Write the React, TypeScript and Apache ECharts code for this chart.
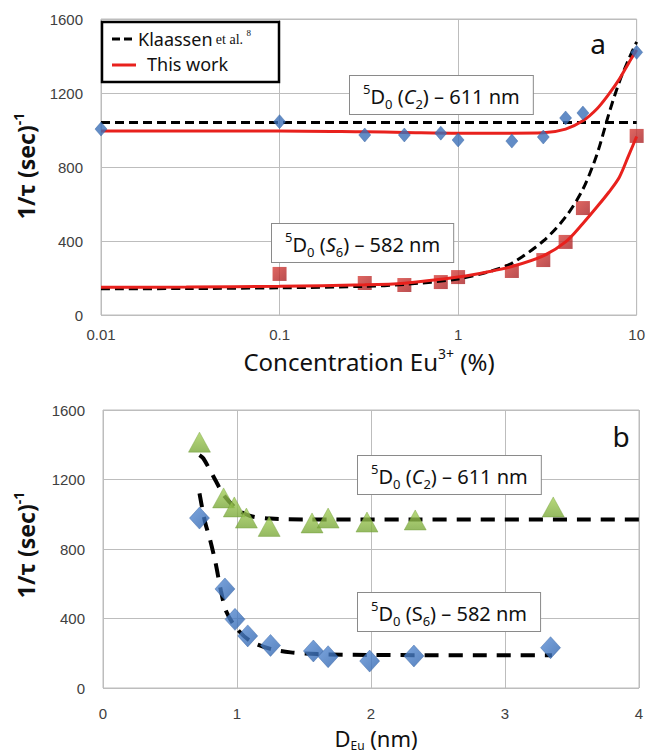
import React, { useEffect, useRef } from "react";
import * as echarts from "echarts";

// ---------- Panel a : decay rate vs Eu3+ concentration ----------
const concC2 = [0.01, 0.1, 0.3, 0.5, 0.8, 1, 2, 3, 4, 5, 10];
const rateC2 = [1005, 1045, 973, 973, 983, 946, 940, 962, 1065, 1092, 1420];
const concS6 = [0.1, 0.3, 0.5, 0.8, 1, 2, 3, 4, 5, 10];
const rateS6 = [222, 173, 162, 178, 205, 238, 297, 395, 578, 968];

// fitted / literature curves
const fitConc = [0.01, 0.03, 0.1, 0.3, 0.5, 1, 1.5, 2, 3, 4, 5, 6, 7, 8, 9, 10];
const fitC2ThisWork = [995, 995, 995, 990, 987, 983, 983, 983, 985, 1005, 1050, 1115, 1195, 1275, 1360, 1432];
const fitS6ThisWork = [150, 151, 155, 163, 172, 205, 235, 262, 320, 395, 495, 585, 665, 745, 860, 965];
const fitS6Klaassen = [142, 143, 147, 155, 165, 195, 235, 280, 400, 530, 680, 870, 1090, 1260, 1380, 1476];
const klaassenC2Conc = [0.01, 10];
const klaassenC2Rate = [1040, 1040];

// ---------- Panel b : decay rate vs Eu-Eu distance ----------
const distC2 = [0.72, 0.9, 0.98, 1.07, 1.24, 1.56, 1.68, 1.97, 2.33, 3.36];
const rateC2b = [1415, 1094, 1042, 978, 930, 950, 978, 955, 967, 1042];
const distS6 = [0.72, 0.91, 0.985, 1.08, 1.25, 1.57, 1.68, 1.99, 2.32, 3.34];
const rateS6b = [978, 570, 395, 300, 245, 213, 180, 155, 184, 232];

const guideC2X = [0.72, 0.75, 0.85, 0.9, 1.0, 1.1, 1.25, 1.5, 4.0];
const guideC2Y = [1340, 1320, 1180, 1110, 1030, 990, 975, 970, 970];
const guideS6X = [0.72, 0.76, 0.8, 0.84, 0.88, 0.92, 1.0, 1.1, 1.25, 1.4, 1.6, 2.0, 3.35];
const guideS6Y = [1120, 960, 850, 720, 560, 440, 340, 270, 225, 205, 195, 190, 188];

const yTicks = [0, 400, 800, 1200, 1600];

const zip = (xs: number[], ys: number[]) => xs.map((x, i) => [x, ys[i]]);

const FONT = "'Noto Sans', 'DejaVu Sans', sans-serif";
const TICK_FONT = "'Liberation Sans', Arial, sans-serif";
const GRID_COLOR = "#bdbdbd";
const RED = "#e8211d";

const yAxisCommon = (gridIndex: number) => ({
  type: "value" as const,
  gridIndex,
  min: yTicks[0],
  max: yTicks[yTicks.length - 1],
  interval: 400,
  axisLine: { show: false },
  axisTick: { show: false },
  splitLine: { show: true, lineStyle: { color: GRID_COLOR, width: 1 } },
  axisLabel: {
    color: "#404040",
    fontSize: 15,
    fontFamily: TICK_FONT,
    margin: 18,
    formatter: (v: number) => String(v),
  },
});

const labelBox = (text: string, left: number, top: number) => ({
  type: "text",
  left,
  top,
  z: 100,
  style: {
    text,
    fontFamily: FONT,
    fontSize: 20,
    fill: "#111",
    backgroundColor: "#fff",
    borderColor: "#8a8a8a",
    borderWidth: 1,
    padding: [6, 13, 4, 13],
    rich: {
      n: { fontSize: 20, fontFamily: FONT, fill: "#111", lineHeight: 28 },
      sup: { fontSize: 13, fontFamily: FONT, fill: "#111", lineHeight: 28, verticalAlign: "top" },
      sub: { fontSize: 13, fontFamily: FONT, fill: "#111", lineHeight: 18, verticalAlign: "bottom", padding: [9, 0, 0, 0] },
      it: { fontSize: 20, fontFamily: FONT, fontStyle: "italic", fill: "#111", lineHeight: 28 },
    },
  },
});

const yTitle = (cx: number, cy: number) => ({
  type: "text",
  x: cx,
  y: cy,
  rotation: Math.PI / 2,
  z: 100,
  style: {
    text: "{n|1/τ (sec)}{s|-1}",
    align: "center",
    verticalAlign: "middle",
    rich: {
      n: { fontSize: 23, fontWeight: "bold", fontFamily: FONT, fill: "#111", lineHeight: 30 },
      s: { fontSize: 14, fontWeight: "bold", fontFamily: FONT, fill: "#111", lineHeight: 30, verticalAlign: "top" },
    },
  },
});

export default function App() {
  const ref = useRef<HTMLDivElement>(null);

  useEffect(() => {
    document.body.style.margin = "0";
    const chart = echarts.init(ref.current!, null, { renderer: "svg" });

    const option: any = {
      animation: false,
      backgroundColor: "#ffffff",
      grid: [
        { left: 101, top: 19, width: 537, height: 296, show: true, borderColor: GRID_COLOR, borderWidth: 1 },
        { left: 103, top: 410, width: 536, height: 278, show: true, borderColor: GRID_COLOR, borderWidth: 1 },
      ],
      xAxis: [
        {
          type: "log",
          logBase: 10,
          gridIndex: 0,
          min: 0.01,
          max: 10,
          axisLine: { show: false },
          axisTick: { show: false },
          splitLine: { show: true, lineStyle: { color: GRID_COLOR, width: 1 } },
          axisLabel: {
            color: "#404040",
            fontSize: 15,
            fontFamily: TICK_FONT,
            margin: 12,
            formatter: (v: number) => String(Number(v.toPrecision(3))),
          },
        },
        {
          type: "value",
          gridIndex: 1,
          min: 0,
          max: 4,
          interval: 1,
          axisLine: { show: false },
          axisTick: { show: false },
          splitLine: { show: true, lineStyle: { color: GRID_COLOR, width: 1 } },
          axisLabel: { color: "#404040", fontSize: 15, fontFamily: TICK_FONT, margin: 18 },
        },
      ],
      yAxis: [yAxisCommon(0), yAxisCommon(1)],
      series: [
        // ---- panel a ----
        {
          name: "Klaassen C2",
          type: "line",
          xAxisIndex: 0,
          yAxisIndex: 0,
          data: zip(klaassenC2Conc, klaassenC2Rate),
          showSymbol: false,
          symbol: "none",
          lineStyle: { color: "#000", width: 3, type: [9, 5] },
          z: 3,
        },
        {
          name: "Klaassen S6",
          type: "line",
          xAxisIndex: 0,
          yAxisIndex: 0,
          data: zip(fitConc, fitS6Klaassen),
          smooth: 0.3,
          showSymbol: false,
          symbol: "none",
          lineStyle: { color: "#000", width: 3, type: [9, 5] },
          z: 3,
        },
        {
          name: "This work C2",
          type: "line",
          xAxisIndex: 0,
          yAxisIndex: 0,
          data: zip(fitConc, fitC2ThisWork),
          smooth: 0.3,
          showSymbol: false,
          symbol: "none",
          lineStyle: { color: RED, width: 3 },
          z: 4,
        },
        {
          name: "This work S6",
          type: "line",
          xAxisIndex: 0,
          yAxisIndex: 0,
          data: zip(fitConc, fitS6ThisWork),
          smooth: 0.3,
          showSymbol: false,
          symbol: "none",
          lineStyle: { color: RED, width: 3 },
          z: 4,
        },
        {
          name: "611 nm a",
          type: "scatter",
          xAxisIndex: 0,
          yAxisIndex: 0,
          data: zip(concC2, rateC2),
          symbol: "diamond",
          symbolSize: [12, 14],
          itemStyle: { color: "#3b6fb8", borderColor: "#2f5d9e", borderWidth: 0.5 },
          z: 5,
        },
        {
          name: "582 nm a",
          type: "scatter",
          xAxisIndex: 0,
          yAxisIndex: 0,
          data: zip(concS6, rateS6),
          symbol: "rect",
          symbolSize: 14,
          itemStyle: {
            color: new echarts.graphic.LinearGradient(0, 0, 1, 1, [
              { offset: 0, color: "#d8403a" },
              { offset: 1, color: "#a82225" },
            ]),
          },
          z: 2,
        },
        // ---- panel b ----
        {
          name: "guide C2",
          type: "line",
          xAxisIndex: 1,
          yAxisIndex: 1,
          data: zip(guideC2X, guideC2Y),
          smooth: 0.3,
          showSymbol: false,
          symbol: "none",
          lineStyle: { color: "#000", width: 4, type: [14, 10] },
          z: 3,
        },
        {
          name: "guide S6",
          type: "line",
          xAxisIndex: 1,
          yAxisIndex: 1,
          data: zip(guideS6X, guideS6Y),
          smooth: 0.3,
          showSymbol: false,
          symbol: "none",
          lineStyle: { color: "#000", width: 4, type: [14, 10] },
          z: 3,
        },
        {
          name: "611 nm b",
          type: "scatter",
          xAxisIndex: 1,
          yAxisIndex: 1,
          data: zip(distC2, rateC2b),
          symbol: "triangle",
          symbolSize: [22, 20],
          itemStyle: {
            color: new echarts.graphic.LinearGradient(0, 0, 0, 1, [
              { offset: 0, color: "#a6d05a" },
              { offset: 1, color: "#7aa83a" },
            ]),
            borderColor: "#6f9a35",
            borderWidth: 0.5,
          },
          z: 5,
        },
        {
          name: "582 nm b",
          type: "scatter",
          xAxisIndex: 1,
          yAxisIndex: 1,
          data: zip(distS6, rateS6b),
          symbol: "diamond",
          symbolSize: [20, 22],
          itemStyle: {
            color: new echarts.graphic.LinearGradient(0, 0, 1, 1, [
              { offset: 0, color: "#5b8fd6" },
              { offset: 1, color: "#2d62ad" },
            ]),
            borderColor: "#2f5d9e",
            borderWidth: 0.5,
          },
          z: 5,
        },
      ],
      graphic: [
        // legend of panel a
        {
          type: "rect",
          z: 100,
          shape: { x: 102, y: 22, width: 177, height: 60 },
          style: { fill: "#fff", stroke: "#000", lineWidth: 2.5 },
        },
        {
          type: "line",
          z: 101,
          shape: { x1: 112, y1: 39, x2: 136, y2: 39 },
          style: { stroke: "#000", lineWidth: 3, lineDash: [8, 4] },
        },
        {
          type: "text",
          z: 101,
          x: 138,
          y: 39,
          style: {
            text: "{n|Klaassen} {e|et al.} {s|8}",
            verticalAlign: "middle",
            rich: {
              n: { fontSize: 18, fontFamily: FONT, fill: "#111", lineHeight: 22 },
              e: { fontSize: 14, fontFamily: "'Liberation Serif', serif", fill: "#111", lineHeight: 22 },
              s: { fontSize: 9, fontFamily: "'Liberation Serif', serif", fill: "#111", lineHeight: 22, verticalAlign: "top" },
            },
          },
        },
        {
          type: "line",
          z: 101,
          shape: { x1: 112, y1: 65, x2: 136, y2: 65 },
          style: { stroke: RED, lineWidth: 3 },
        },
        {
          type: "text",
          z: 101,
          x: 147,
          y: 64,
          style: { text: "This work", fontSize: 18, fontFamily: FONT, fill: "#111", verticalAlign: "middle" },
        },
        // panel letters
        {
          type: "text",
          z: 100,
          x: 598,
          y: 43,
          style: { text: "a", fontSize: 28, fontFamily: FONT, fill: "#111", align: "center", verticalAlign: "middle" },
        },
        {
          type: "text",
          z: 100,
          x: 621,
          y: 436,
          style: { text: "b", fontSize: 28, fontFamily: FONT, fill: "#111", align: "center", verticalAlign: "middle" },
        },
        // annotation boxes
        labelBox("{sup|5}{n|D}{sub|0}{n| (}{it|C}{sub|2}{n|) – 611 nm}", 349, 75),
        labelBox("{sup|5}{n|D}{sub|0}{n| (}{it|S}{sub|6}{n|) – 582 nm}", 271, 223),
        labelBox("{sup|5}{n|D}{sub|0}{n| (}{it|C}{sub|2}{n|) – 611 nm}", 357, 455),
        labelBox("{sup|5}{n|D}{sub|0}{n| (}{n|S}{sub|6}{n|) – 582 nm}", 357, 592),
        // axis titles
        yTitle(26, 166),
        yTitle(26, 545),
        {
          type: "text",
          z: 100,
          x: 369,
          y: 361,
          style: {
            text: "{n|Concentration Eu}{s|3+}{n| (%)}",
            align: "center",
            verticalAlign: "middle",
            rich: {
              n: { fontSize: 24, fontFamily: FONT, fill: "#111", lineHeight: 30 },
              s: { fontSize: 14, fontFamily: FONT, fill: "#111", lineHeight: 30, verticalAlign: "top" },
            },
          },
        },
        {
          type: "text",
          z: 100,
          x: 376,
          y: 738,
          style: {
            text: "{n|D}{s|Eu}{n| (nm)}",
            align: "center",
            verticalAlign: "middle",
            rich: {
              n: { fontSize: 22, fontFamily: FONT, fill: "#111", lineHeight: 26 },
              s: { fontSize: 12, fontFamily: FONT, fill: "#111", lineHeight: 16, verticalAlign: "bottom", padding: [8, 0, 0, 0] },
            },
          },
        },
      ],
    };

    chart.setOption(option);
    return () => chart.dispose();
  }, []);

  return <div ref={ref} style={{ width: 648, height: 756 }} />;
}
